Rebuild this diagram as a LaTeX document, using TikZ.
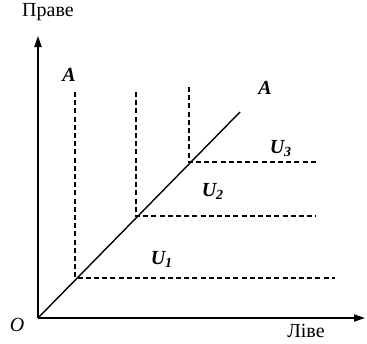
\documentclass[tikz,border=0pt]{standalone}
\usepackage{fontspec}
\setmainfont{Liberation Serif}
\usetikzlibrary{arrows.meta,positioning}

\tikzset{
  axis/.style={line width=0.7pt, -{Triangle[length=5.5pt,width=3.6pt]}},
  guide/.style={line width=0.6pt, dash pattern=on 2.5pt off 1.6pt},
  lbl/.style={inner sep=0pt, font=\bfseries\itshape}
}

\begin{document}
\begin{tikzpicture}[x=0.5pt, y=-0.5pt]
        \useasboundingbox (0,0) rectangle (367,343);
        % Axes
        \coordinate (O) at (38,318);
        \coordinate (Ytop) at (38,36);
        \coordinate (Xend) at (365,318);
        \draw[axis] (O) -- (Ytop);
        \draw[axis] (O) -- (Xend);
        \node[inner sep=0pt] (Right) at (48,12) {Праве};
        \node[inner sep=0pt] (Left) at (306,331) {Ліве};
        \node[inner sep=0pt, font=\itshape] (Oname) at (17,325) {O};

        % Line A
        \coordinate (Aend) at (240,112);
        \draw[line width=0.7pt] (O) -- (Aend);
        \node[lbl] (A1) at (69,75) {A};
        \node[lbl] (A2) at (265,88) {A};

        % Points on the line
        \coordinate (P1) at (75,278);
        \coordinate (P2) at (136,216);
        \coordinate (P3) at (189,162);
        \coordinate (T1) at (75,92);
        \coordinate (T2) at (136,92);
        \coordinate (T3) at (189,87);
        \coordinate (R1) at (335,278);
        \coordinate (R2) at (316,216);
        \coordinate (R3) at (316,162);
        \draw[guide] (T1) -- (P1) -- (R1);
        \draw[guide] (T2) -- (P2) -- (R2);
        \draw[guide] (T3) -- (P3) -- (R3);

        % Regions
        \node[lbl] (U1) at (162,259) {U\textsubscript{1}};
        \node[lbl] (U2) at (213,191) {U\textsubscript{2}};
        \node[lbl] (U3) at (281,149) {U\textsubscript{3}};
\end{tikzpicture}
\end{document}
